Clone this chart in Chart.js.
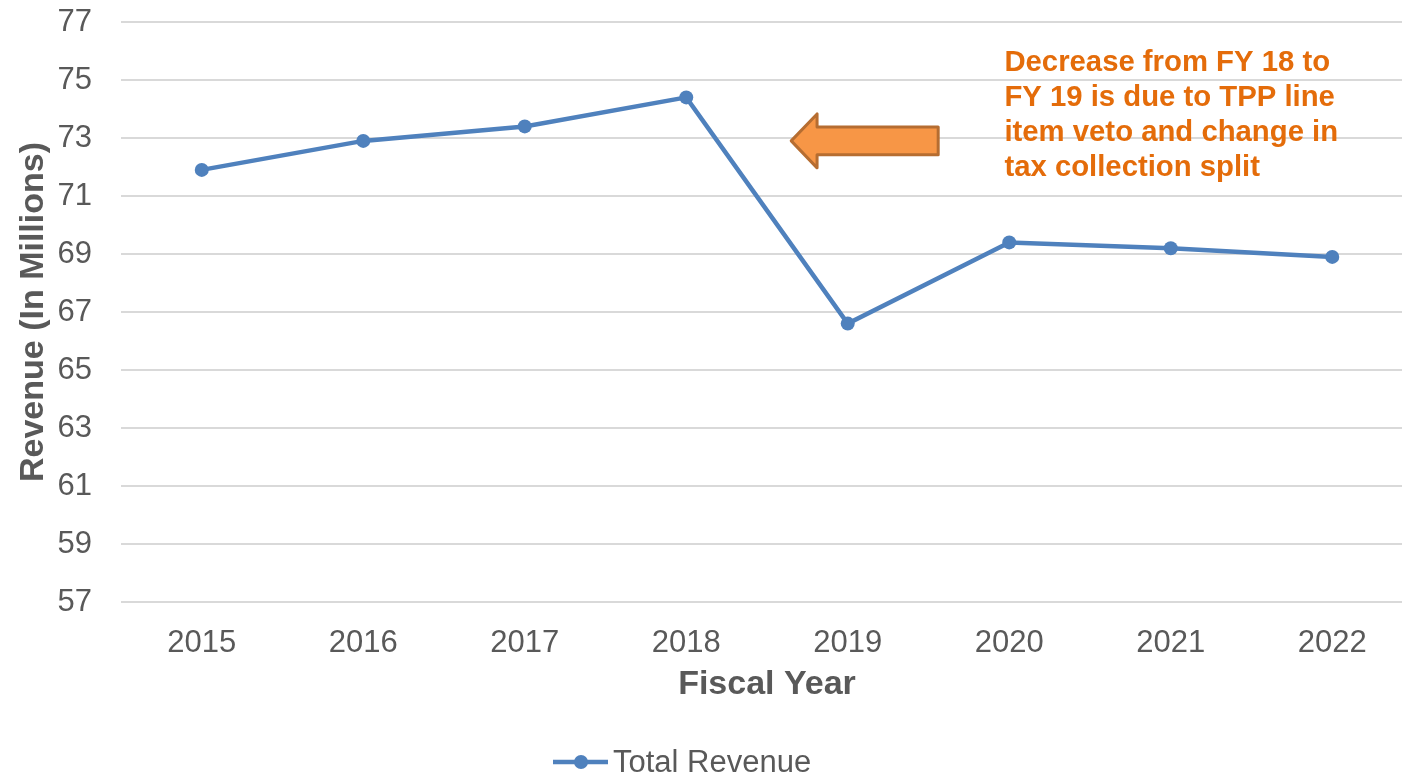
<!DOCTYPE html>
<html>
<head>
<meta charset="utf-8">
<script src="https://cdn.jsdelivr.net/npm/chart.js@4"></script>
<style>
  html, body { margin: 0; padding: 0; background: #fff; overflow: hidden; }
  #wrap { width: 1402px; height: 776px; overflow: hidden; position: relative; }
  #wrap div.box { width: 1420px; height: 776px; position: absolute; left: 0; top: 0; }
</style>
</head>
<body>
<div id="wrap"><div class="box"><canvas id="revenue-chart"></canvas></div></div>
<script>
// Total revenue by fiscal year (in millions)
var fiscal_years = ['2015', '2016', '2017', '2018', '2019', '2020', '2021', '2022'];
var total_revenue = [71.9, 72.9, 73.4, 74.4, 66.6, 69.4, 69.2, 68.9];
var y_ticks = [57, 59, 61, 63, 65, 67, 69, 71, 73, 75, 77];
var note_lines = ['Decrease from FY 18 to', 'FY 19 is due to TPP line', 'item veto and change in', 'tax collection split'];

var font_family = '"Liberation Sans", Arial, sans-serif';
var axis_grey = '#595959';
var line_blue = '#4F81BD';

// arrow + note drawn on top of the plot, placed with the scales
var note_plugin = {
	id: 'fy_note',
	afterDatasetsDraw: function(chart) {
		var ctx = chart.ctx;
		var xs = chart.scales.x, ys = chart.scales.y;
		var unit = xs.getPixelForValue(1) - xs.getPixelForValue(0);
		var x0 = xs.getPixelForValue(3);
		var tipX = x0 + 0.65 * unit, headX = x0 + 0.81 * unit, tailX = x0 + 1.56 * unit;
		var cy = ys.getPixelForValue(72.9);
		var yu = ys.getPixelForValue(72) - ys.getPixelForValue(73);
		var headH = 0.93 * yu, bodyH = 0.48 * yu;

		ctx.save();
		ctx.beginPath();
		ctx.moveTo(tipX, cy);
		ctx.lineTo(headX, cy - headH);
		ctx.lineTo(headX, cy - bodyH);
		ctx.lineTo(tailX, cy - bodyH);
		ctx.lineTo(tailX, cy + bodyH);
		ctx.lineTo(headX, cy + bodyH);
		ctx.lineTo(headX, cy + headH);
		ctx.closePath();
		ctx.fillStyle = '#F79646';
		ctx.fill();
		ctx.lineWidth = 3;
		ctx.lineJoin = 'round';
		ctx.strokeStyle = '#B66D31';
		ctx.stroke();

		// note text
		ctx.fillStyle = '#E46C0A';
		ctx.font = 'bold 29.3px ' + font_family;
		ctx.textAlign = 'left';
		ctx.textBaseline = 'middle';
		var tx = x0 + 1.97 * unit;
		var ty = ys.getPixelForValue(75.6);
		for (var i = 0; i < note_lines.length; i++) {
			ctx.fillText(note_lines[i], tx, ty + i * 35);
		}
		ctx.restore();
	}
};

// legend drawn by hand: line + marker + label
var legend_plugin = {
	id: 'fy_legend',
	afterDraw: function(chart) {
		var ctx = chart.ctx;
		var lx = 553, ly = 762;
		ctx.save();
		ctx.strokeStyle = line_blue;
		ctx.lineWidth = 4.5;
		ctx.beginPath();
		ctx.moveTo(lx, ly);
		ctx.lineTo(lx + 55, ly);
		ctx.stroke();
		ctx.fillStyle = line_blue;
		ctx.beginPath();
		ctx.arc(lx + 28, ly, 7, 0, Math.PI * 2);
		ctx.fill();
		ctx.fillStyle = axis_grey;
		ctx.font = '31px ' + font_family;
		ctx.textAlign = 'left';
		ctx.textBaseline = 'middle';
		ctx.fillText('Total Revenue', lx + 60, ly + 1);
		ctx.restore();
	}
};

var ctx = document.getElementById('revenue-chart');
var cfg = {
	type: 'line',
	data: {
		labels: fiscal_years,
		datasets: [{
			label: 'Total Revenue',
			data: total_revenue,
			borderColor: line_blue,
			backgroundColor: line_blue,
			borderWidth: 4.5,
			pointRadius: 7,
			pointBackgroundColor: line_blue,
			pointBorderWidth: 0,
			tension: 0
		}]
	},
	options: {
		responsive: true,
		maintainAspectRatio: false,
		animation: false,
		layout: { padding: { top: 0, right: 2, bottom: 64, left: 0 } },
		plugins: {
			legend: { display: false },
			tooltip: { enabled: false }
		},
		scales: {
			x: {
				offset: true,
				grid: { display: false, drawTicks: false },
				border: { display: false },
				ticks: { color: axis_grey, font: { family: font_family, size: 31 }, padding: 23, maxRotation: 0 },
				title: { display: true, text: 'Fiscal Year', color: axis_grey,
				         font: { family: font_family, size: 34, weight: 'bold' }, padding: { top: 0, bottom: 7 } },
				afterFit: function(scale) { scale.height = 110; }
			},
			y: {
				min: 57,
				max: 77,
				afterBuildTicks: function(scale) {
					scale.ticks = y_ticks.map(function(v) { return { value: v }; });
				},
				grid: { color: '#D9D9D9', lineWidth: 2, drawTicks: false },
				border: { display: false },
				ticks: { color: axis_grey, font: { family: font_family, size: 31 }, padding: 29 },
				title: { display: true, text: 'Revenue (In Millions)', color: axis_grey,
				         font: { family: font_family, size: 34, weight: 'bold' }, padding: { top: 13, bottom: 0 } },
				afterFit: function(scale) {
					scale.width = 121;
					scale.paddingTop = 22;
					scale.paddingBottom = 0;
				}
			}
		}
	},
	plugins: [note_plugin, legend_plugin]
};
new Chart(ctx, cfg);
</script>
</body>
</html>
